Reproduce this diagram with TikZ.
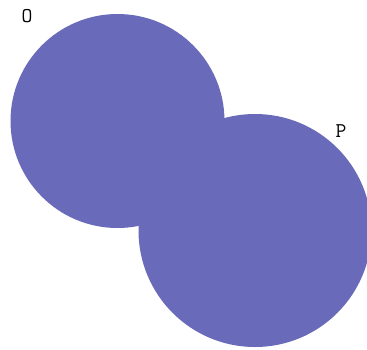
\documentclass[tikz,border=0pt]{standalone}
\definecolor{discfill}{RGB}{106,106,186}
\begin{document}
\begin{tikzpicture}[x=1pt,y=-1pt,
  disc/.style={fill=discfill,draw=none},
  lbl/.style={font=\ttfamily\fontsize{21}{21}\selectfont,inner sep=0pt,anchor=center}]
\useasboundingbox (0,0) rectangle (367,349);
\fill[white] (0,0) rectangle (367,349);
\begin{scope}
\clip (0,0) rectangle (367,349);
\path[disc] (117.5,121) circle[radius=107];
\path[disc] (255,230.5) circle[radius=116.5];
\end{scope}
\node[lbl] (O) at (27,16.5) {O};
\node[lbl] (P) at (341,131.5) {P};
\end{tikzpicture}
\end{document}
